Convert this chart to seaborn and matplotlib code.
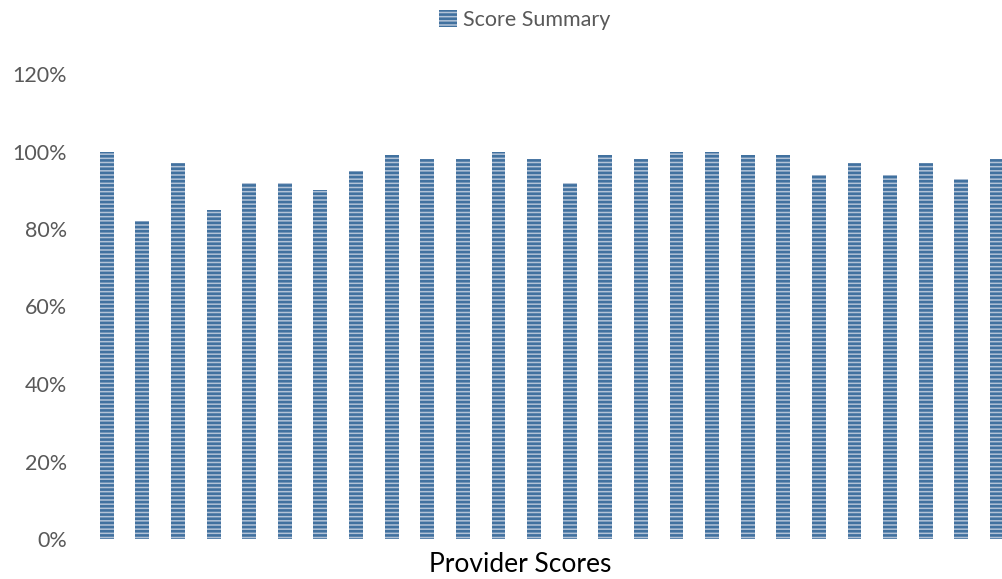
import matplotlib
matplotlib.use('Agg')
import matplotlib.pyplot as plt
import pandas as pd
import seaborn as sns
from matplotlib.ticker import PercentFormatter

# Data
providers = [str(i) for i in range(1, 27)]
scores = [100, 82, 97, 85, 92, 92, 90, 95, 99, 98, 98, 100, 98,
          92, 99, 98, 100, 100, 99, 99, 94, 97, 94, 97, 93, 98]

df = pd.DataFrame({'provider': providers, 'score': [s / 100 for s in scores]})

sns.set_theme(style='white')
plt.rcParams['font.family'] = ['Lato', 'DejaVu Sans']
plt.rcParams['hatch.linewidth'] = 1.9

fig = plt.figure(figsize=(10.03, 5.79), dpi=100)
ax = fig.add_axes([89 / 1003, 40 / 579, 914 / 1003, 465 / 579])

sns.barplot(data=df, x='provider', y='score', color='#adc3dd',
            width=0.39, ax=ax, label='Score Summary')
for bar in ax.patches:
    bar.set_hatch('----')
    bar.set_edgecolor('#41719f')
    bar.set_linewidth(0)

ax.set_xlim(-0.5, 25.17)
ax.set_ylim(0, 1.2)
ax.set_yticks([0, 0.2, 0.4, 0.6, 0.8, 1.0, 1.2])
ax.yaxis.set_major_formatter(PercentFormatter(1.0, decimals=0))
ax.set_xticks([])
ax.set_xlabel('')
ax.set_ylabel('')
ax.tick_params(axis='y', length=0, pad=16, labelsize=15.5, labelcolor='#595959')
sns.despine(ax=ax, left=True, bottom=True)

fig.text(520 / 1003, 1 - 564 / 579, 'Provider Scores', ha='center',
         va='center', fontsize=19, color='black')

leg = ax.legend(loc='center', bbox_to_anchor=(525 / 1003, 1 - 20 / 579),
                bbox_transform=fig.transFigure, frameon=False, fontsize=15.5,
                handlelength=0.8, handleheight=0.8, handletextpad=0.3,
                labelcolor='#595959')

fig.savefig('out.png', dpi=100)
